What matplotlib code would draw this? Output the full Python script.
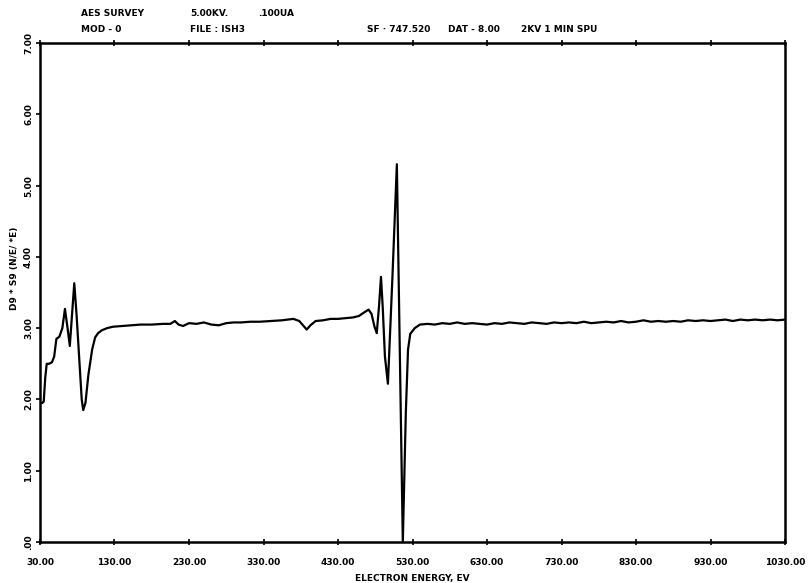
import numpy as np
import matplotlib
matplotlib.use('Agg')
import matplotlib.pyplot as plt

# spectrum: electron energy (eV) and D9*S9(N/E/*E)
energy = [30, 33, 35, 37, 39, 42, 46, 49, 52, 56, 60, 63.5, 67, 70, 73, 76, 79,
          83, 86, 88, 91, 95, 100, 104, 108, 113, 120, 128, 140, 151, 165, 180,
          195, 205, 211, 216, 222, 230, 240, 250, 260, 270, 280, 290, 300, 312,
          325, 340, 355, 370, 378, 383, 388, 393, 400, 410, 420, 430, 440, 450,
          458, 465, 471, 475, 479, 482, 485, 487.7, 490, 493, 497, 503, 509,
          513, 517, 521, 524, 527, 533, 540, 550, 560, 570, 580, 590, 600, 610,
          620, 630, 640, 650, 660, 670, 680, 690, 700, 710, 720, 730, 740, 750,
          760, 770, 780, 790, 800, 810, 820, 830, 840, 850, 860, 870, 880, 890,
          900, 910, 920, 930, 940, 950, 960, 970, 980, 990, 1000, 1010, 1020, 1030]
signal = [1.95, 1.95, 1.97, 2.3, 2.5, 2.5, 2.52, 2.6, 2.85, 2.88, 3.0, 3.27, 3.0,
          2.75, 3.2, 3.63, 3.2, 2.5, 2.0, 1.85, 1.95, 2.35, 2.7, 2.87, 2.93, 2.97,
          3.0, 3.02, 3.03, 3.04, 3.05, 3.05, 3.06, 3.06, 3.1, 3.05, 3.03, 3.07,
          3.06, 3.08, 3.05, 3.04, 3.07, 3.08, 3.08, 3.09, 3.09, 3.1, 3.11, 3.13,
          3.1, 3.04, 2.98, 3.04, 3.1, 3.11, 3.13, 3.13, 3.14, 3.15, 3.17, 3.22,
          3.26, 3.2, 3.02, 2.93, 3.3, 3.72, 3.3, 2.6, 2.22, 3.7, 5.3, 2.6, 0.0,
          1.8, 2.7, 2.92, 3.0, 3.05, 3.06, 3.05, 3.07, 3.06, 3.08, 3.06, 3.07,
          3.06, 3.05, 3.07, 3.06, 3.08, 3.07, 3.06, 3.08, 3.07, 3.06, 3.08, 3.07,
          3.08, 3.07, 3.09, 3.07, 3.08, 3.09, 3.08, 3.1, 3.08, 3.09, 3.11, 3.09,
          3.1, 3.09, 3.1, 3.09, 3.11, 3.1, 3.11, 3.1, 3.11, 3.12, 3.1, 3.12,
          3.11, 3.12, 3.11, 3.12, 3.11, 3.12]

x_ticks = np.arange(30, 1031, 100)
y_ticks = np.arange(0, 8, 1)
x_labels = ['%.2f' % v for v in x_ticks]
y_labels = ['.00'] + ['%.2f' % v for v in y_ticks[1:]]

header = [
    ('AES SURVEY', 81, 14), ('5.00KV.', 190, 14), ('.100UA', 258, 14),
    ('MOD - 0', 81, 29), ('FILE : ISH3', 190, 29), ('SF · 747.520', 367, 29),
    ('DAT - 8.00', 448, 29), ('2KV 1 MIN SPU', 521, 29),
]

W, H = 812, 583
fig = plt.figure(figsize=(W / 100, H / 100), dpi=100)
ax = fig.add_axes([40 / W, 1 - 542 / H, 745 / W, 499 / H])

ax.plot(energy, signal, color='black', lw=1.6, solid_joinstyle='round')
ax.set_xlim(30, 1030)
ax.set_ylim(0, 7)

font = dict(family='DejaVu Sans', weight='bold', size=6.5)
ax.set_xticks(x_ticks)
ax.set_xticklabels(x_labels, **font)
ax.set_yticks(y_ticks)
ax.set_yticklabels(y_labels, rotation=90, va='center', **font)
ax.tick_params(axis='x', direction='inout', length=5, width=1.2, pad=9, top=True)
ax.tick_params(axis='y', direction='out', length=3, width=1.2, pad=2)
for s in ax.spines.values():
    s.set_linewidth(1.8)

ax.set_xlabel('ELECTRON ENERGY, EV', labelpad=5, **font)
fig.text(15 / W, 1 - 268 / H, 'D9 * S9 (N/E/ *E)', rotation=90,
         ha='center', va='center', **font)

for txt, px, py in header:
    fig.text(px / W, 1 - py / H, txt, ha='left', va='center', **font)

fig.savefig('out.png', dpi=100)
